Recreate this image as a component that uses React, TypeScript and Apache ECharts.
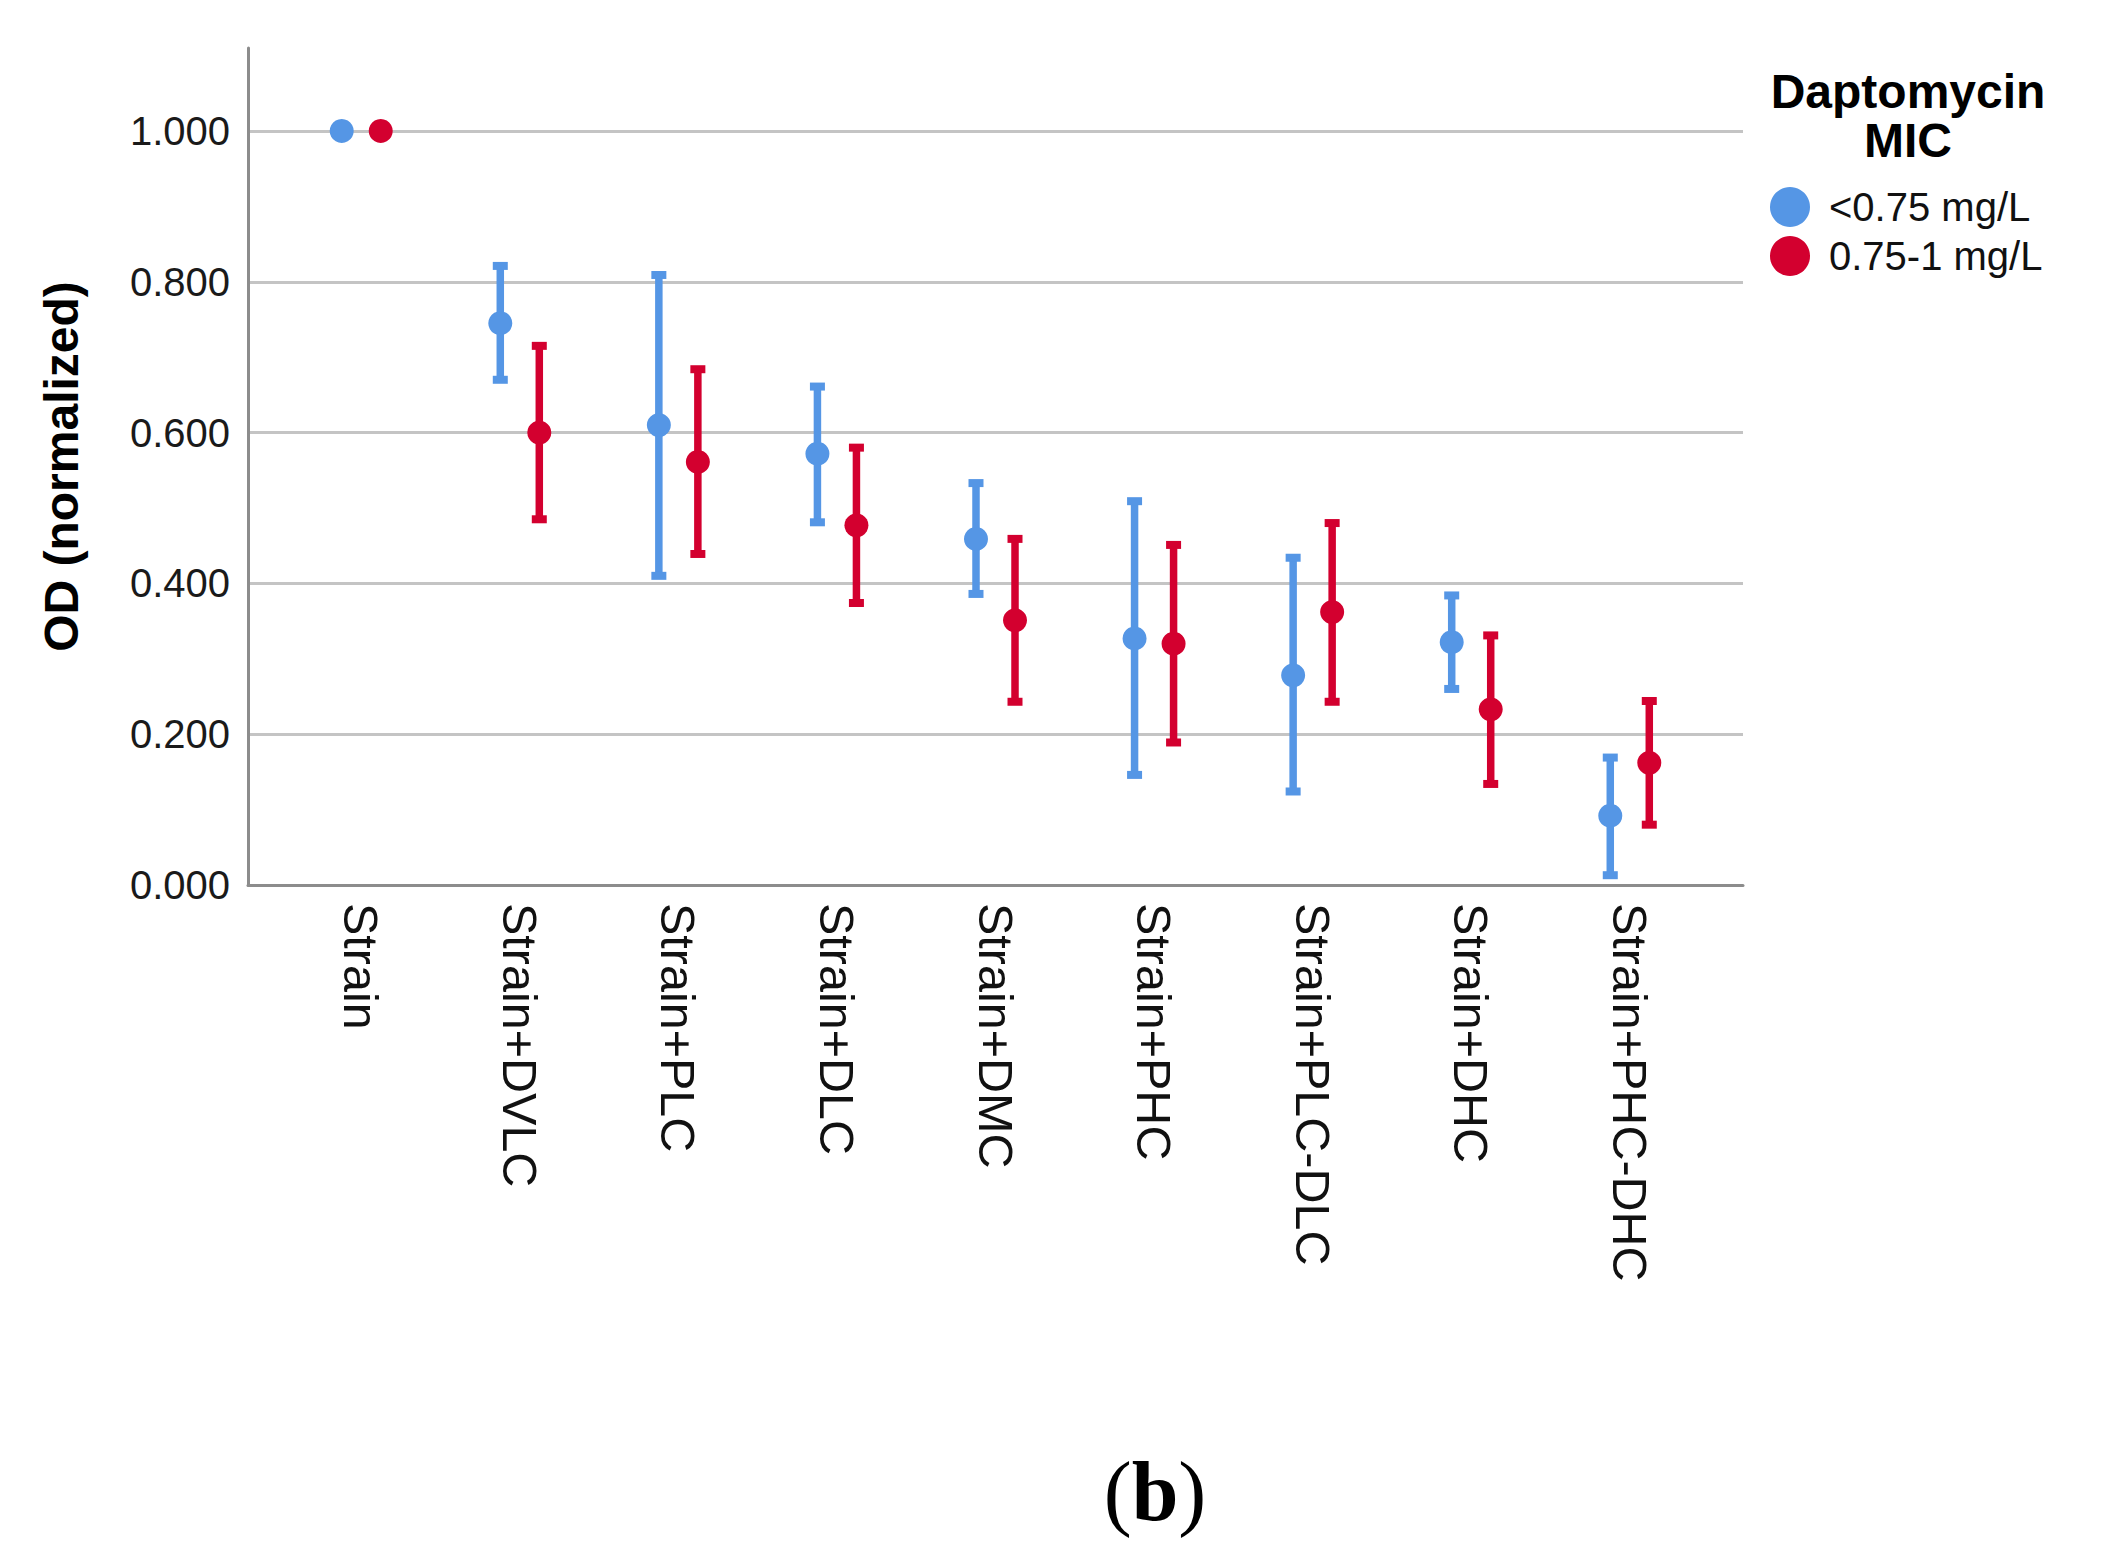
import React, { useEffect, useRef } from "react";
import * as echarts from "echarts";

const categories = [
  "Strain",
  "Strain+DVLC",
  "Strain+PLC",
  "Strain+DLC",
  "Strain+DMC",
  "Strain+PHC",
  "Strain+PLC-DLC",
  "Strain+DHC",
  "Strain+PHC-DHC",
];
const seriesNames = ["<0.75 mg/L", "0.75-1 mg/L"];

const blueMean = [1.0, 0.745, 0.61, 0.572, 0.459, 0.327, 0.278, 0.322, 0.092];
const blueLow = [null, 0.67, 0.41, 0.481, 0.386, 0.146, 0.124, 0.26, 0.013];
const blueHigh = [null, 0.821, 0.809, 0.661, 0.533, 0.509, 0.434, 0.384, 0.169];

const redMean = [1.0, 0.6, 0.561, 0.477, 0.351, 0.32, 0.362, 0.233, 0.162];
const redLow = [null, 0.485, 0.439, 0.374, 0.243, 0.189, 0.243, 0.134, 0.08];
const redHigh = [null, 0.715, 0.684, 0.58, 0.459, 0.451, 0.48, 0.331, 0.244];

const yTickValues = [0, 0.2, 0.4, 0.6, 0.8, 1.0];

const BLUE = "#5596E5";
const RED = "#D3002F";
const FONT = "'Liberation Sans', Arial, Helvetica, sans-serif";
const OFFSET = 0.123;

export default function App() {
  const ref = useRef<HTMLDivElement>(null);

  useEffect(() => {
    const chart = echarts.init(ref.current as HTMLDivElement, null, { renderer: "svg" });

    const pts = (means: number[], sign: number) =>
      means.map((m, i) => [i + sign * OFFSET, m]);
    const errs = (lows: (number | null)[], highs: (number | null)[], sign: number) =>
      lows
        .map((lo, i) => (lo == null || highs[i] == null ? null : [i + sign * OFFSET, lo, highs[i]]))
        .filter((d) => d !== null);

    const renderErr = (color: string) => (params: any, api: any) => {
      const x = api.value(0);
      const lo = api.value(1);
      const hi = api.value(2);
      const pLo = api.coord([x, lo]);
      const pHi = api.coord([x, hi]);
      return {
        type: "group",
        children: [
          {
            type: "line",
            shape: { x1: pLo[0], y1: pLo[1], x2: pHi[0], y2: pHi[1] },
            style: { stroke: color, lineWidth: 7.5 },
          },
          {
            type: "rect",
            shape: { x: pHi[0] - 7.5, y: pHi[1] - 4, width: 15, height: 8 },
            style: { fill: color },
          },
          {
            type: "rect",
            shape: { x: pLo[0] - 7.5, y: pLo[1] - 4, width: 15, height: 8 },
            style: { fill: color },
          },
        ],
      };
    };

    chart.setOption({
      animation: false,
      backgroundColor: "#ffffff",
      textStyle: { fontFamily: FONT },
      title: {
        text: "Daptomycin\nMIC",
        left: 1908,
        top: 67,
        padding: 0,
        textAlign: "center",
        textStyle: {
          fontFamily: FONT,
          fontSize: 48,
          fontWeight: "bold",
          lineHeight: 49,
          color: "#000",
        },
      },
      legend: {
        data: seriesNames,
        orient: "vertical",
        left: 1770,
        top: 187,
        padding: 0,
        itemGap: 9,
        itemWidth: 40,
        itemHeight: 40,
        icon: "circle",
        textStyle: {
          fontFamily: FONT,
          fontSize: 40,
          color: "#111",
          padding: [0, 0, 0, 14],
        },
      },
      grid: {
        left: 248,
        right: 367,
        top: 48,
        bottom: 679,
        containLabel: false,
        outerBoundsMode: "none",
      },
      xAxis: {
        type: "value",
        min: -0.714,
        max: 8.714,
        axisLine: { show: true, onZero: false, lineStyle: { color: "#8c8c8c", width: 3 } },
        axisTick: { show: false },
        splitLine: { show: false },
        axisLabel: {
          customValues: categories.map((_, i) => i),
          rotate: -90,
          margin: 18,
          fontSize: 48.5,
          fontFamily: FONT,
          color: "#111",
          formatter: (v: number) => categories[Math.round(v)] ?? "",
        },
      },
      yAxis: {
        type: "value",
        min: 0,
        max: 1.11,
        interval: 0.2,
        name: "OD (normalized)",
        nameLocation: "middle",
        nameRotate: 90,
        nameGap: 163,
        nameTextStyle: { fontFamily: FONT, fontSize: 48, fontWeight: "bold", color: "#000" },
        axisLine: { show: true, onZero: false, lineStyle: { color: "#8c8c8c", width: 3 } },
        axisTick: { show: false },
        axisLabel: {
          customValues: yTickValues,
          margin: 18,
          fontSize: 40,
          fontFamily: FONT,
          color: "#1a1a1a",
          formatter: (v: number) => v.toFixed(3),
        },
        splitLine: {
          show: true,
          showMinLine: false,
          showMaxLine: false,
          lineStyle: { color: "#c4c4c4", width: 3 },
        },
      },
      series: [
        {
          type: "custom",
          name: "err-blue",
          renderItem: renderErr(BLUE),
          data: errs(blueLow, blueHigh, -1),
          encode: { x: 0, y: [1, 2] },
          z: 2,
          silent: true,
        },
        {
          type: "custom",
          name: "err-red",
          renderItem: renderErr(RED),
          data: errs(redLow, redHigh, 1),
          encode: { x: 0, y: [1, 2] },
          z: 2,
          silent: true,
        },
        {
          type: "scatter",
          name: seriesNames[0],
          data: pts(blueMean, -1),
          symbol: "circle",
          symbolSize: 24,
          itemStyle: { color: BLUE, opacity: 1 },
          z: 3,
        },
        {
          type: "scatter",
          name: seriesNames[1],
          data: pts(redMean, 1),
          symbol: "circle",
          symbolSize: 24,
          itemStyle: { color: RED, opacity: 1 },
          z: 3,
        },
      ],
      graphic: [
        {
          type: "text",
          x: 1155,
          y: 1491,
          style: {
            text: "{p|(}{b|b}{p|)}",
            rich: {
              p: { fontFamily: "'Liberation Serif', 'Times New Roman', serif", fontSize: 84, fontWeight: "normal", fill: "#000" },
              b: { fontFamily: "'Liberation Serif', 'Times New Roman', serif", fontSize: 84, fontWeight: "bold", fill: "#000" },
            },
            align: "center",
            verticalAlign: "middle",
            textAlign: "center",
            textVerticalAlign: "middle",
            fill: "#000",
          },
        },
      ],
    });

    return () => {
      chart.dispose();
    };
  }, []);

  return (
    <div
      ref={ref}
      style={{ position: "fixed", left: 0, top: 0, width: 2110, height: 1564, background: "#fff" }}
    />
  );
}
